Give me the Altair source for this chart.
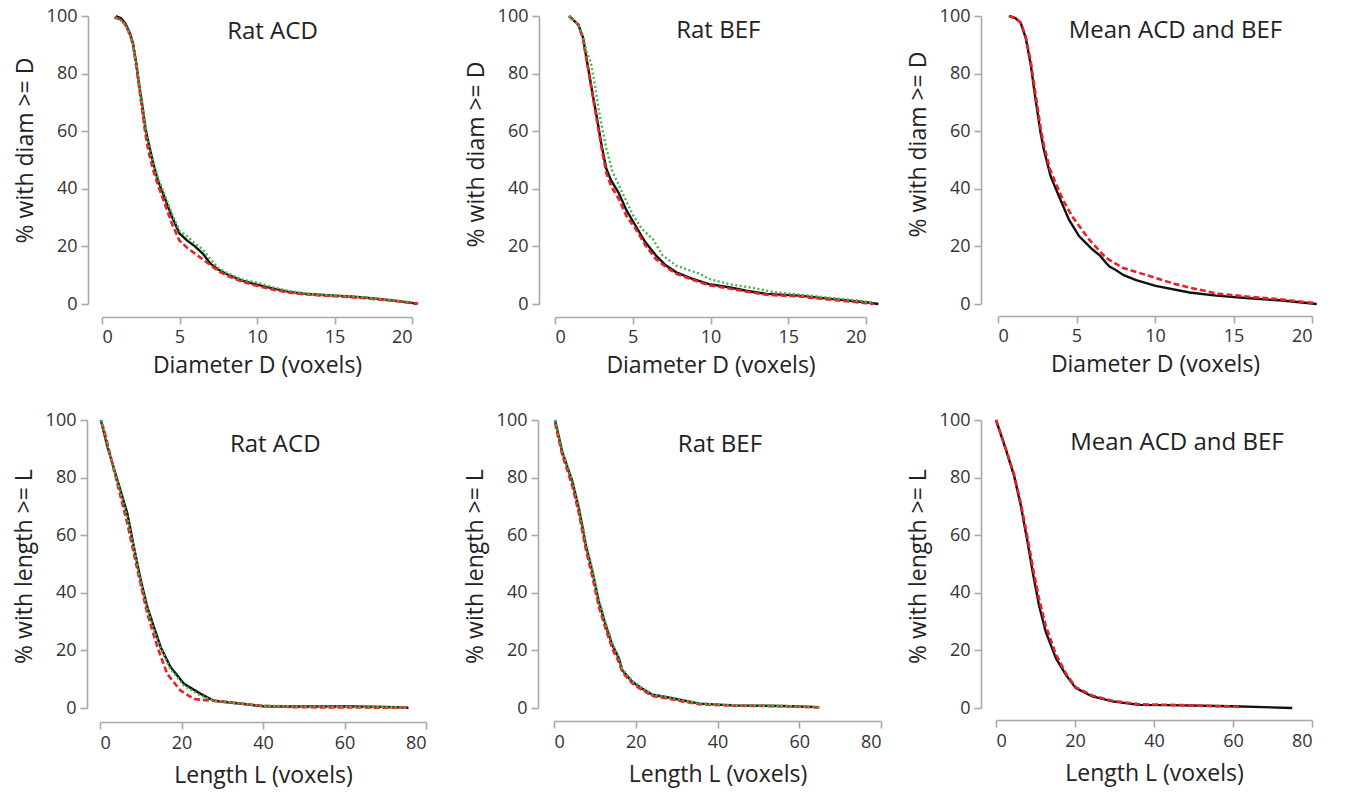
import altair as alt
import pandas as pd

# ---------------- data ----------------
# Panel 1: Rat ACD, diameter
acd_d_black_x = [0.9, 1.2, 1.5, 1.8, 2.0, 2.2, 2.4, 2.6, 2.8, 3.0, 3.3, 3.6, 4.0, 4.5, 5.0, 5.5, 6.0, 6.5, 7.0, 7.5, 8.0, 9.0, 10.0, 11.0, 12.0, 13.0, 14.0, 15.0, 16.0, 17.0, 18.0, 19.0, 20.0, 20.3]
acd_d_black_y = [100, 99.3, 97.5, 94, 90.5, 84, 76, 69, 61, 56, 49, 43, 37.5, 30.5, 24.5, 22, 20, 17.5, 14, 12, 10.5, 8.2, 6.7, 5.4, 4.3, 3.6, 3.2, 2.9, 2.6, 2.2, 1.7, 1.1, 0.4, 0]
acd_d_red_x = [0.8, 1.2, 1.5, 1.8, 2.0, 2.2, 2.4, 2.6, 2.8, 3.0, 3.3, 3.6, 4.0, 4.5, 5.0, 5.5, 6.0, 6.5, 7.0, 7.5, 8.0, 9.0, 10.0, 11.0, 12.0, 13.0, 14.0, 15.0, 16.0, 17.0, 18.0, 19.0, 20.0, 20.4]
acd_d_red_y = [99.5, 98.8, 97, 93.5, 90, 83, 75, 67, 59, 53, 46.5, 41.5, 35.5, 28, 22, 19.5, 17.5, 15.5, 13.5, 11.5, 10, 7.8, 6.3, 5.0, 4.0, 3.4, 3.0, 2.7, 2.4, 2.0, 1.5, 1.0, 0.3, 0.2]
acd_d_green_x = [0.9, 1.2, 1.5, 1.8, 2.0, 2.2, 2.4, 2.6, 2.8, 3.0, 3.3, 3.6, 4.0, 4.5, 5.0, 5.5, 6.0, 6.5, 7.0, 7.5, 8.0, 9.0, 10.0, 11.0, 12.0, 13.0, 14.0, 15.0, 16.0, 17.0, 18.0, 19.0, 20.0]
acd_d_green_y = [99.3, 98.5, 97, 93.5, 90, 84, 76.5, 69.5, 62, 56.5, 49.5, 44, 38.5, 31.5, 25.5, 23.5, 21, 19, 15.5, 12.5, 11, 8.5, 7.5, 5.8, 4.6, 3.8, 3.3, 3.0, 2.7, 2.3, 1.8, 1.2, 0.6]

# Panel 2: Rat BEF, diameter
bef_d_black_x = [0.9, 1.2, 1.5, 1.8, 2.1, 2.4, 2.7, 3.0, 3.3, 3.6, 4.1, 4.6, 5.2, 5.8, 6.5, 7.1, 7.8, 8.8, 9.9, 11.2, 12.3, 13.6, 15.7, 17.9, 20.0, 20.8]
bef_d_black_y = [100, 98.5, 97, 92.5, 83, 73.5, 64.5, 55, 47, 43, 38.5, 32.5, 27, 21.5, 16.8, 13.5, 11, 8.8, 6.9, 5.8, 4.6, 3.5, 2.9, 1.7, 0.6, 0]
bef_d_red_x = [0.9, 1.2, 1.5, 1.8, 2.1, 2.4, 2.7, 3.0, 3.3, 3.6, 4.1, 4.6, 5.2, 5.8, 6.5, 7.1, 7.8, 8.8, 9.9, 11.2, 12.3, 13.6, 15.7, 17.9, 20.0, 20.5]
bef_d_red_y = [100, 98.5, 97, 92, 82.5, 73, 63.5, 54, 45.5, 41, 36.5, 30.5, 26, 20.5, 15.5, 13, 10.5, 8.5, 6.5, 5.4, 4.3, 3.2, 2.6, 1.4, 0.3, 0]
bef_d_green_x = [0.9, 1.2, 1.5, 1.8, 2.0, 2.3, 2.6, 2.8, 3.0, 3.3, 3.7, 4.3, 5.0, 5.6, 6.3, 6.9, 7.8, 9.3, 9.9, 11.2, 12.5, 14.0, 16.0, 18.0, 19.5, 20.5]
bef_d_green_y = [100, 98.5, 97, 93, 88, 84, 75, 68, 62, 54, 46, 39, 31, 26, 22.5, 17, 13.3, 10.5, 8.7, 6.9, 5.8, 4.2, 3.1, 2.0, 1.2, 0.3]

# Panel 3: Mean ACD and BEF, diameter
mean_d_black_x = [0.7, 1.1, 1.44, 1.76, 2.08, 2.4, 2.72, 2.93, 3.36, 3.89, 4.52, 5.16, 6.0, 6.5, 6.86, 7.1, 7.5, 8.0, 8.8, 10.04, 12.2, 13.9, 16.0, 18.1, 20.3]
mean_d_black_y = [100, 99.3, 97.7, 92.5, 83.3, 70.7, 59.2, 53.4, 44.2, 37.3, 29.3, 23.6, 19, 16.8, 14.4, 13, 11.8, 10, 8.3, 6.3, 4.0, 2.9, 2.0, 1.2, 0]
mean_d_red_x = [0.7, 1.1, 1.44, 1.76, 2.08, 2.4, 2.72, 2.93, 3.3, 3.67, 4.2, 4.73, 5.8, 6.86, 7.92, 9.6, 11.3, 12.2, 14.0, 16.0, 18.0, 20.2]
mean_d_red_y = [100, 99.3, 97.7, 93, 84.5, 72.5, 61, 55, 47, 42, 35.5, 30.4, 22.4, 16.1, 12.6, 9.8, 6.9, 5.7, 3.6, 2.5, 1.6, 0.3]

# Panel 4: Rat ACD, length
acd_l_black_x = [0.2, 1.8, 4.25, 6.7, 8.3, 10, 11.6, 13.25, 14.9, 17.3, 20.6, 24.7, 28, 35.3, 40, 47.6, 55, 62, 70, 75.7]
acd_l_black_y = [100, 90.8, 79.2, 67.6, 56, 44.4, 35.1, 28.1, 21.1, 14.2, 8.4, 4.9, 2.5, 1.4, 0.6, 0.5, 0.5, 0.5, 0.4, 0.1]
acd_l_red_x = [0.4, 1, 3.4, 6.7, 9.2, 11.6, 14.1, 16.5, 19.8, 23.1, 28, 39.4, 47.6, 55, 62, 70, 75.7]
acd_l_red_y = [99, 96.6, 82.7, 64.1, 47.8, 32.8, 21.1, 11.8, 6.0, 3.1, 2.5, 0.8, 0.3, 0.2, 0.2, 0.1, 0.1]
acd_l_green_x = [0.3, 2, 4.3, 6.7, 8.5, 10, 11.6, 13.3, 14.9, 17.3, 20.6, 24.7, 28, 35, 40, 50, 60, 70, 75.5]
acd_l_green_y = [100, 90, 78.5, 66.5, 54.5, 44, 34.5, 27, 20.5, 13.5, 7.8, 4.3, 2.6, 1.5, 0.8, 0.5, 0.4, 0.3, 0.1]

# Panel 5: Rat BEF, length
bef_l_x = [0.25, 2, 4.5, 6.1, 7.8, 9.4, 11, 12.65, 14.3, 15.9, 16.7, 19.2, 21.6, 24.1, 27.3, 31.4, 35.5, 43.7, 55.9, 64.9]
bef_l_black_y = [100, 89, 78.5, 69.3, 56.5, 47.3, 36.8, 28.7, 21.8, 17.1, 13.1, 9, 6.7, 4.6, 3.8, 2.7, 1.5, 0.9, 0.7, 0.3]
bef_l_red_y = [99, 88, 77, 67.5, 55, 45.5, 35, 27.5, 20.5, 15.8, 12.5, 8.5, 6.2, 4.2, 3.4, 2.3, 1.3, 0.8, 0.6, 0.2]
bef_l_green_y = [100, 89.5, 79, 70, 57.5, 48, 37.5, 29.5, 22.5, 17.5, 13.5, 9.3, 6.9, 4.8, 3.9, 2.8, 1.6, 1.0, 0.7, 0.3]

# Panel 6: Mean ACD and BEF, length
mean_l_black_x = [0, 2.5, 4.6, 6.3, 8, 9.3, 10.9, 12.6, 15.2, 17.7, 20.2, 24.4, 29.5, 36.2, 47.2, 59.8, 75]
mean_l_black_y = [100, 89.7, 80.5, 70.1, 57.5, 47.1, 35.6, 26.4, 17.2, 11.5, 6.9, 4, 2.3, 1.1, 0.9, 0.6, 0]
mean_l_red_x = [0, 2.5, 4.6, 6.3, 8, 9.3, 10.9, 12.6, 15.2, 17.7, 20.2, 24.4, 29.5, 36.2, 47.2, 61.5]
mean_l_red_y = [100, 90, 81, 71, 59, 49, 38, 28.5, 18.5, 12, 7.2, 4.3, 2.5, 1.3, 1.0, 0.4]

y_ticks = [0, 20, 40, 60, 80, 100]
diam_ticks = [0, 5, 10, 15, 20]
len_ticks = [0, 20, 40, 60, 80]

# ---------------- styles ----------------
FONT = "Open Sans"
BLACK = dict(color="#111111", strokeWidth=2.4)
RED = dict(color="#ec2027", strokeWidth=2.6, strokeDash=[6, 3])
GREEN = dict(color="#3dba4a", strokeWidth=2.4, strokeDash=[2, 2.5])

axis_style = dict(
    grid=False,
    domainColor="#a8a8a8",
    domainWidth=1.6,
    tickColor="#a8a8a8",
    tickWidth=1.6,
    tickSize=7,
    labelFont=FONT,
    labelFontSize=18,
    labelColor="#333333",
    titleFont=FONT,
    titleFontSize=23,
    titleFontWeight="normal",
    titleColor="#222222",
)

PLOT_H = 288
COL_W = [354, 342, 316]


def make_panel(series, title, tx, ty, xmax, xticks, col, x0, w,
               xtitle, ytitle, xtitle_pad, xlab_pad, xoff, yoff, ytitle_y):
    xs = alt.Scale(domain=[0, xmax], nice=False, zero=False, range=[x0, x0 + w])
    ys = alt.Scale(domain=[0, 100], nice=False)
    xaxis = alt.Axis(values=xticks, title=xtitle, offset=xoff,
                     labelPadding=xlab_pad, titlePadding=xtitle_pad, format="d",
                     titleX=x0 + w / 2, **axis_style)
    yaxis = alt.Axis(values=y_ticks, title=ytitle, offset=yoff - x0,
                     labelPadding=4, titlePadding=9, format="d",
                     titleY=ytitle_y, **axis_style)
    layers = []
    for xv, yv, style in series:
        df = pd.DataFrame({"x": xv, "y": yv})
        layers.append(
            alt.Chart(df).mark_line(clip=False, **style).encode(
                x=alt.X("x:Q", scale=xs, axis=xaxis),
                y=alt.Y("y:Q", scale=ys, axis=yaxis),
            )
        )
    txt = alt.Chart(pd.DataFrame({"t": [title]})).mark_text(
        font=FONT, fontSize=24, color="#222222", align="center",
        baseline="alphabetic"
    ).encode(
        x=alt.datum(tx, scale=xs),
        y=alt.datum(ty, scale=ys),
        text="t:N",
    )
    layers.append(txt)
    return alt.layer(*layers).properties(width=COL_W[col], height=PLOT_H)


DT = "Diameter D (voxels)"
LT = "Length L (voxels)"
YD = "% with diam >= D"
YL = "% with length >= L"

p1 = make_panel(
    [(acd_d_black_x, acd_d_black_y, BLACK), (acd_d_red_x, acd_d_red_y, RED),
     (acd_d_green_x, acd_d_green_y, GREEN)],
    "Rat ACD", 11.0, 92, 20, diam_ticks, 0, 2, 310, DT, YD, 8, 4, 13, 14, 134)
p2 = make_panel(
    [(bef_d_black_x, bef_d_black_y, BLACK), (bef_d_red_x, bef_d_red_y, RED),
     (bef_d_green_x, bef_d_green_y, GREEN)],
    "Rat BEF", 10.5, 92.5, 20, diam_ticks, 1, 1, 311, DT, YD, 8, 4, 13, 16, 138)
p3 = make_panel(
    [(mean_d_black_x, mean_d_black_y, BLACK), (mean_d_red_x, mean_d_red_y, RED)],
    "Mean ACD and BEF", 11.3, 92.5, 20, diam_ticks, 2, 2, 314, DT, YD, 8, 4, 12, 17, 128)
p4 = make_panel(
    [(acd_l_black_x, acd_l_black_y, BLACK), (acd_l_red_x, acd_l_red_y, RED),
     (acd_l_green_x, acd_l_green_y, GREEN)],
    "Rat ACD", 43, 89, 80, len_ticks, 0, 0, 326, LT, YL, 12, 5, 14, 13, 146)
p5 = make_panel(
    [(bef_l_x, bef_l_black_y, BLACK), (bef_l_x, bef_l_red_y, RED),
     (bef_l_x, bef_l_green_y, GREEN)],
    "Rat BEF", 40.6, 89, 80, len_ticks, 1, 0, 327, LT, YL, 12, 5, 13, 16, 146)
p6 = make_panel(
    [(mean_l_black_x, mean_l_black_y, BLACK), (mean_l_red_x, mean_l_red_y, RED)],
    "Mean ACD and BEF", 45.8, 89.5, 80, len_ticks, 2, 0, 316, LT, YL, 12, 5, 12, 15, 146)

chart = alt.concat(
    p1, p2, p3, p4, p5, p6,
    columns=3,
    spacing={"row": 116, "column": 100},
    bounds="flush",
).properties(
    padding={"left": 13, "top": 7, "right": 5, "bottom": 5},
    background="white",
).configure_view(stroke=None)

chart.save("out.html", embed_options={"renderer": "svg", "actions": False})
